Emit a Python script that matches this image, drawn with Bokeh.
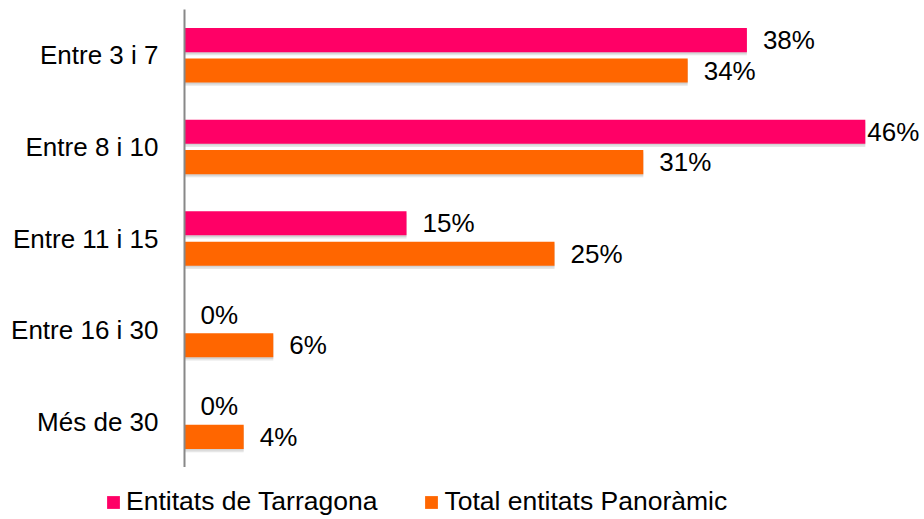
from bokeh.plotting import figure
from bokeh.models import ColumnDataSource, FactorRange, Range1d, Legend, LegendItem
from bokeh.layouts import column
from bokeh.transform import dodge
from bokeh.core.properties import value
from bokeh.embed import file_html
from bokeh.resources import INLINE

categories = ["Entre 3 i 7", "Entre 8 i 10", "Entre 11 i 15", "Entre 16 i 30", "Més de 30"]
tarragona = [38, 46, 15, 0, 0]
panoramic = [34, 31, 25, 6, 4]
series_names = ["Entitats de Tarragona", "Total entitats Panoràmic"]
colors = ["#FF0066", "#FF6600"]

FONT = "Liberation Sans"
X_END = 50
W = 924
LEFT = 184
PX_PER_UNIT = (W - LEFT) / X_END


def label_offset(v):
    # labels that would not fit at the right edge are pulled close to the bar (as Excel does)
    return 16 if (X_END - v) * PX_PER_UNIT > 70 else 2


src = ColumnDataSource(dict(
    cat=categories,
    t=tarragona,
    p=panoramic,
    t_lbl=[f"{v}%" for v in tarragona],
    p_lbl=[f"{v}%" for v in panoramic],
    t_off=[label_offset(v) for v in tarragona],
    p_off=[label_offset(v) for v in panoramic],
))

p = figure(
    width=W, height=467,
    y_range=FactorRange(factors=list(reversed(categories)), range_padding=0),
    x_range=Range1d(0, X_END),
    x_axis_location=None,
    output_backend="svg", toolbar_location=None,
    min_border_left=LEFT, min_border_right=0, min_border_top=9, min_border_bottom=0,
)
p.frame_align = False
p.outline_line_color = None
p.xgrid.visible = False
p.ygrid.visible = False

off = 0.166
bh = 0.263
sh = 0.035

# soft shadows under the bars
for col, o in (("t", off), ("p", -off)):
    p.hbar(y=dodge("cat", o - sh, range=p.y_range), left=0, right=col, height=bh,
           source=src, fill_color="#9a9a9a", fill_alpha=0.25, line_color=None)
    p.hbar(y=dodge("cat", o - sh * 0.5, range=p.y_range), left=0, right=col, height=bh,
           source=src, fill_color="#9a9a9a", fill_alpha=0.25, line_color=None)

r1 = p.hbar(y=dodge("cat", off, range=p.y_range), left=0, right="t", height=bh,
            source=src, fill_color=colors[0], line_color=None)
r2 = p.hbar(y=dodge("cat", -off, range=p.y_range), left=0, right="p", height=bh,
            source=src, fill_color=colors[1], line_color=None)

for col, lbl, offc, o in (("t", "t_lbl", "t_off", off), ("p", "p_lbl", "p_off", -off)):
    p.text(x=col, y=dodge("cat", o, range=p.y_range), text=lbl, source=src,
           x_offset=offc, text_baseline="middle", text_align="left",
           text_font=value(FONT), text_font_size="26px", text_color="#000000")

ax = p.yaxis[0]
ax.axis_line_color = "#888888"
ax.axis_line_width = 2
ax.major_tick_line_color = None
ax.minor_tick_line_color = None
ax.major_tick_out = 0
ax.major_tick_in = 0
ax.major_label_standoff = 26
ax.major_label_text_font = FONT
ax.major_label_text_font_size = "26px"
ax.major_label_text_color = "#000000"

# legend strip below the chart (its own frame spans the full width)
lg = figure(
    width=W, height=52,
    x_range=Range1d(0, 1), y_range=Range1d(0, 1),
    x_axis_location=None, y_axis_location=None,
    output_backend="svg", toolbar_location=None,
    min_border_left=0, min_border_right=0, min_border_top=0, min_border_bottom=0,
)
lg.frame_align = False
lg.outline_line_color = None
lg.xgrid.visible = False
lg.ygrid.visible = False
# one zero-length bar per series: only used as legend swatches
key_src = ColumnDataSource(dict(y=[0.5], right=[0]))
k1 = lg.hbar(y="y", right="right", left=0, height=0.01, source=key_src,
             fill_color=colors[0], line_color=None)
k2 = lg.hbar(y="y", right="right", left=0, height=0.01, source=key_src,
             fill_color=colors[1], line_color=None)

legend = Legend(
    items=[LegendItem(label=series_names[0], renderers=[k1]),
           LegendItem(label=series_names[1], renderers=[k2])],
    orientation="horizontal",
    location=(105, 2),
    glyph_width=16, glyph_height=16,
    label_standoff=5, spacing=46, padding=0, margin=0,
    label_text_font=FONT, label_text_font_size="26.5px", label_text_color="#000000",
    border_line_color=None, background_fill_alpha=0,
)
lg.add_layout(legend, "center")

layout = column(p, lg, spacing=0)
open("out.html", "w").write(file_html(layout, INLINE))
